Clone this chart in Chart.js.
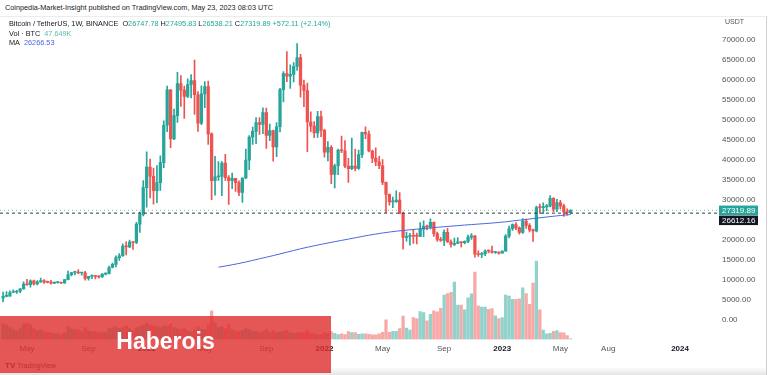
<!DOCTYPE html>
<html>
<head>
<meta charset="utf-8">
<script src="https://cdn.jsdelivr.net/npm/chart.js@4.4.0/dist/chart.umd.min.js"></script>
<style>
  html, body { margin: 0; padding: 0; background: #fff; }
  body { width: 768px; height: 375px; position: relative; overflow: hidden;
         font-family: "Liberation Sans", Arial, sans-serif; color: #131722; }
  #chart { position: absolute; left: 0; top: 17px; }
  .hdr { position: absolute; left: 5px; top: 3px; font-size: 7.3px; color: #222; white-space: nowrap; }
  .sep { position: absolute; left: 0; top: 16px; width: 768px; height: 1px; background: #ececec; }
  .legend { position: absolute; left: 9px; top: 19px; font-size: 7.3px; line-height: 9.6px; white-space: nowrap; }
  .up { color: #26a69a; }
  .vol { color: #5fbcb3; }
  .ma { color: #4a67e0; }
  .usdt { position: absolute; left: 725px; top: 18px; font-size: 7px; color: #555; }
  .rborder { position: absolute; left: 766px; top: 17px; width: 1px; height: 358px; background: #cfcfcf; }
  .tv { position: absolute; left: 5px; top: 361px; font-size: 7px; color: #333; }
  .tv b { font-size: 8px; margin-right: 2px; }
  .shade { position: absolute; left: 0; top: 367px; width: 766px; height: 8px;
           background: linear-gradient(#fff, #e4e4e4); }
  .stamp { position: absolute; left: 0; top: 316px; width: 331px; height: 57px;
           background: rgba(222, 45, 45, 0.8); color: #fff; font: bold 23px "Liberation Sans", Arial, sans-serif;
           text-align: center; line-height: 50px; }
</style>
</head>
<body>
<div class="hdr">Coinpedia-Market-Insight published on TradingView.com, May 23, 2023 08:03 UTC</div>
<div class="sep"></div>
<div class="shade"></div>
<canvas id="chart" width="768" height="343"></canvas>
<div class="legend" id="legend"></div>
<div class="usdt">USDT</div>
<div class="rborder"></div>
<div class="tv"><b>TV</b>TradingView</div>
<div class="stamp">Haberois</div>
<script>
// weekly candles, index 0 = week of 16 Mar 2020 (BTCUSDT, Binance)
const openP = [
  5361, 5816, 5880, 6775, 6910, 7120, 7700, 8890, 8725, 9680, 8910, 9450, 9740, 9330, 9290, 9120, 9230, 9240, 9160, 9985,
  11220, 11780, 11910, 11650, 11710, 10280, 10790, 10920, 10770, 10670, 11380, 11500, 13030, 13800, 15480, 15960, 18400, 18180, 19360, 19270,
  23860, 26280,
  33000, 38150, 35830, 32260, 34260, 39250, 48580, 57410, 45140, 50970, 59030, 57350, 55790, 58760, 59770, 56200, 49100, 56420, 58240, 46430,
  34700, 35680, 35800, 39100, 35500, 34700, 35290, 34250, 31780, 35400, 39850, 45600, 47050, 49250, 48800, 51750, 46060, 47250, 43160, 48200,
  57480, 61530, 60850, 61300, 63270, 65500, 58620, 57270, 49400, 48380, 46680, 50780,
  47290, 41830, 43080, 36280, 38470, 42400, 42200, 38360, 37700, 38400, 37780, 41260, 46830, 46400, 42150, 40380, 39450, 38470, 34300, 31300,
  29430, 29450, 29900, 26570, 20550, 20730, 20850, 20830, 20790, 22580, 23300, 23170, 24300, 21500, 20030, 19800, 21800, 19420, 18800, 19050,
  19420, 19200, 19570, 20630, 20920, 16330, 16280, 16450, 17120, 17100, 16780, 16840,
  16620, 17130, 20870, 22700, 23740, 22930, 21780, 24630, 23550, 22430, 22150, 28000, 27990, 28170, 28330, 30300, 27590, 29230, 28430, 26920,
  26747.78
];
const highP = [
  6900, 6980, 7200, 7470, 7290, 7780, 9460, 10070, 9950, 9890, 9750, 10380, 10000, 9600, 9790, 9350, 9430, 9330, 10000, 12125,
  11800, 12100, 12485, 11800, 12090, 10590, 11180, 11000, 10950, 11490, 11720, 13350, 14100, 15960, 16480, 18950, 19420, 19900, 19420, 24300,
  26870, 34780,
  41950, 40100, 37850, 38530, 40950, 49700, 58350, 57530, 52640, 61800, 61000, 58400, 60200, 61240, 64850, 57000, 58450, 59500, 59600, 46660,
  40800, 39480, 39500, 41330, 36000, 36600, 35300, 34680, 35450, 42600, 46000, 48150, 50500, 50500, 52950, 52900, 48850, 47350, 49230, 57800,
  62000, 67000, 63700, 64250, 69000, 66340, 59900, 59100, 51950, 49500, 52090, 52100,
  47570, 44500, 43500, 38900, 42650, 45850, 44750, 40300, 45400, 42600, 42400, 46900, 48200, 47200, 42400, 42950, 40800, 40000, 34400, 31350,
  30650, 32200, 31750, 26900, 21900, 21540, 22500, 21600, 24280, 24670, 23650, 25200, 24450, 21900, 20580, 22450, 22800, 19950, 20400, 20500,
  19520, 19700, 21100, 21480, 21000, 17200, 16800, 17420, 17390, 18400, 17070, 16950,
  17180, 21260, 23370, 23960, 24250, 23160, 25250, 25130, 24000, 22600, 28400, 28900, 29200, 28800, 31000, 30500, 30040, 29830, 28880, 27670,
  27495.83
];
const lowP = [
  4442, 5670, 5860, 6770, 6555, 6750, 7630, 8520, 8106, 8630, 8640, 9280, 9050, 9200, 8830, 8975, 9130, 9000, 9030, 9920,
  10930, 11140, 11480, 11100, 9830, 9860, 10220, 10140, 10370, 10530, 11200, 11400, 12900, 13200, 14800, 15800, 16200, 18000, 17570, 19000,
  21800, 25900,
  28130, 30420, 28850, 29240, 32300, 37990, 47000, 43000, 45000, 49300, 53270, 50300, 55450, 55400, 51300, 47040, 48750, 53000, 43800, 30000,
  31100, 34800, 31000, 34800, 28800, 32700, 32070, 31000, 29280, 35200, 37500, 43800, 43950, 46300, 46500, 42800, 44750, 39600, 40750, 46900,
  54400, 59500, 57800, 59400, 62300, 55600, 53250, 42000, 47000, 45500, 45560, 45700,
  40600, 39650, 34000, 32900, 36250, 41700, 38000, 34300, 37450, 37150, 37550, 40470, 45200, 41900, 39200, 38500, 37700, 33700, 26700, 28600,
  28000, 29300, 26560, 17620, 19600, 18600, 19050, 18900, 20750, 20700, 22400, 22650, 20770, 19520, 19550, 18500, 19300, 18100, 18470, 19000,
  18180, 18900, 19200, 20060, 15590, 15800, 15480, 16000, 16700, 16600, 16550, 16330,
  16600, 17130, 20400, 22300, 22500, 21350, 21530, 22800, 21900, 19550, 21900, 26600, 26500, 27200, 28170, 27000, 26950, 27680, 25800, 26100,
  26538.21
];
const closeP = [
  5816, 5880, 6775, 6910, 7120, 7700, 8890, 8725, 9680, 8910, 9450, 9740, 9330, 9290, 9120, 9230, 9240, 9160, 9985, 11220,
  11780, 11910, 11650, 11710, 10280, 10790, 10920, 10770, 10670, 11380, 11500, 13030, 13800, 15480, 15960, 18400, 18180, 19360, 19270, 23860,
  26280, 33000,
  38150, 35830, 32260, 34260, 39250, 48580, 57410, 45140, 50970, 59030, 57350, 55790, 58760, 59770, 56200, 49100, 56420, 58240, 46430, 34700,
  35680, 35800, 39100, 35500, 34700, 35290, 34250, 31780, 35400, 39850, 45600, 47050, 49250, 48800, 51750, 46060, 47250, 43160, 48200, 57480,
  61530, 60850, 61300, 63270, 65500, 58620, 57270, 49400, 48380, 46680, 50780, 47290,
  41830, 43080, 36280, 38470, 42400, 42200, 38360, 37700, 38400, 37780, 41260, 46830, 46400, 42150, 40380, 39450, 38470, 34300, 31300, 29430,
  29450, 29900, 26570, 20550, 20730, 20850, 20830, 20790, 22580, 23300, 23170, 24300, 21500, 20030, 19800, 21800, 19420, 18800, 19050, 19420,
  19200, 19570, 20630, 20920, 16330, 16280, 16450, 17120, 17100, 16780, 16840, 16620,
  17130, 20870, 22700, 23740, 22930, 21780, 24630, 23550, 22430, 22150, 28000, 27990, 28170, 28330, 30300, 27590, 29230, 28430, 26920, 26750,
  27319.89
];
// volume, thousand BTC
const volumeK = [
  960, 900, 720, 600, 540, 660, 960, 1020, 900, 660, 540, 600, 480, 420, 420, 360, 360, 300, 420, 780,
  660, 600, 600, 480, 720, 540, 480, 480, 420, 420, 420, 660, 720, 780, 660, 720, 840, 660, 540, 720,
  780, 900,
  1020, 900, 840, 780, 720, 840, 780, 960, 720, 660, 600, 660, 540, 480, 600, 780, 600, 600, 900, 1740,
  1020, 720, 780, 660, 900, 600, 480, 480, 540, 660, 600, 480, 480, 420, 480, 600, 420, 540, 420, 480,
  480, 540, 420, 360, 420, 420, 420, 540, 360, 360, 300, 300,
  420, 360, 480, 380, 300, 340, 300, 480, 420, 420, 320, 340, 340, 320, 280, 280, 340, 440, 1200, 440,
  500, 500, 660, 1420, 700, 580, 1340, 1280, 1700, 1640, 1140, 1540, 1740, 1680, 1900, 2700, 2800, 2880, 3500, 2100,
  2100, 1800, 2540, 2780, 4100, 2040, 1980, 1980, 1840, 1880, 1440, 1280,
  1340, 2700, 2640, 2440, 2440, 2480, 3140, 2800, 2140, 3440, 4780, 1800, 580, 340, 380, 500, 540, 420, 400, 240,
  47.649
];
// 200-week moving average
const maWeeks = [63, 67, 71, 75, 79, 83, 87, 91, 95, 99, 103, 107, 111, 115, 119, 123, 127, 131, 135, 139, 143, 147, 151, 155, 159, 163, 166];
const maValues = [13100, 13700, 14400, 15200, 16000, 16850, 17700, 18450, 19150, 19800, 20450, 21100, 21650, 22100, 22450, 22770,
  23070, 23350, 23630, 23880, 24130, 24450, 24850, 25250, 25650, 26020, 26266.53];

const markLevel = 26612.16;
const priceTicks = [0, 5000, 10000, 15000, 20000, 25000, 30000, 35000, 40000, 45000, 50000, 55000, 60000, 65000, 70000];
const tickWeeks = [7, 25, 42, 59, 77, 94, 111, 129, 146, 163, 177, 198];
const tickLabels = ["May", "Sep", "2021", "May", "Sep", "2022", "May", "Sep", "2023", "May", "Aug", "2024"];

const upColor = "#26a69a";
const downColor = "#ef5350";
const last = closeP.length - 1;
const lastClose = closeP[last];
const xMin = -0.9, xMax = 209.4;

const isUp = closeP.map((c, i) => c >= openP[i]);
const candleColors = isUp.map((u) => (u ? upColor : downColor));
const volumeColors = isUp.map((u) => (u ? "rgba(38,166,154,0.5)" : "rgba(239,83,80,0.5)"));

// legend text from the last candle
document.getElementById("legend").innerHTML =
  'Bitcoin / TetherUS, 1W, BINANCE&nbsp;&nbsp;' +
  'O<span class="up">' + openP[last].toFixed(2) + '</span> ' +
  'H<span class="up">' + highP[last].toFixed(2) + '</span> ' +
  'L<span class="up">' + lowP[last].toFixed(2) + '</span> ' +
  'C<span class="up">' + lastClose.toFixed(2) + '</span> ' +
  '<span class="up">+572.11 (+2.14%)</span><br>' +
  'Vol · BTC&nbsp;&nbsp;<span class="vol">' + volumeK[last].toFixed(3) + 'K</span><br>' +
  'MA&nbsp;&nbsp;<span class="ma">' + maValues[maValues.length - 1].toFixed(2) + '</span>';

const priceTags = {
  id: "priceTags",
  afterDraw(chart) {
    const { ctx, chartArea, scales } = chart;
    const x = chartArea.right;
    const y1 = scales.y.getPixelForValue(lastClose);
    const h = 9.5;
    ctx.save();
    ctx.font = "8px 'Liberation Sans', Arial, sans-serif";
    ctx.textBaseline = "middle";
    ctx.fillStyle = upColor;
    ctx.fillRect(x, y1 - h / 2, 39, h);
    ctx.fillStyle = "#fff";
    ctx.fillText(lastClose.toFixed(2), x + 3, y1 + 0.5);
    const y2 = y1 + h;
    ctx.fillStyle = "#131722";
    ctx.fillRect(x, y2 - h / 2 + 0.5, 39, h);
    ctx.fillStyle = "#fff";
    ctx.fillText(markLevel.toFixed(2), x + 3, y2 + 1);
    ctx.restore();
  },
};

const dataChart = {
  datasets: [
    {
      type: "line",
      data: maWeeks.map((w, k) => ({ x: w, y: maValues[k] })),
      borderColor: "#4a67e0",
      borderWidth: 1,
      pointRadius: 0,
      tension: 0.3,
      order: 1,
    },
    {
      type: "line",
      data: [{ x: xMin, y: markLevel }, { x: xMax, y: markLevel }],
      borderColor: "#3a3a3a",
      borderWidth: 1,
      borderDash: [3, 3],
      pointRadius: 0,
      order: 1,
    },
    {
      type: "line",
      data: [{ x: xMin, y: lastClose }, { x: xMax, y: lastClose }],
      borderColor: "rgba(38,166,154,0.7)",
      borderWidth: 1,
      borderDash: [1, 3],
      pointRadius: 0,
      order: 1,
    },
    {
      type: "bar",
      data: closeP.map((c, i) => ({ x: i, y: [openP[i], c] })),
      backgroundColor: candleColors,
      barThickness: 2.6,
      minBarLength: 1,
      grouped: false,
      order: 2,
    },
    {
      type: "bar",
      data: closeP.map((c, i) => ({ x: i, y: [lowP[i], highP[i]] })),
      backgroundColor: candleColors,
      barThickness: 1,
      grouped: false,
      order: 3,
    },
    {
      type: "bar",
      yAxisID: "vol",
      data: volumeK.map((v, i) => ({ x: i, y: v })),
      backgroundColor: volumeColors,
      barThickness: 2.6,
      grouped: false,
      order: 5,
    },
  ],
};

const configChart = {
  type: "bar",
  data: dataChart,
  options: {
    responsive: false,
    animation: false,
    devicePixelRatio: 1,
    layout: { padding: { top: 3, bottom: 2, left: 0, right: 0 } },
    plugins: { legend: { display: false }, tooltip: { enabled: false } },
    scales: {
      x: {
        type: "linear",
        min: xMin,
        max: xMax,
        offset: false,
        grid: { display: false, drawTicks: false },
        border: { display: false },
        afterBuildTicks: (s) => { s.ticks = tickWeeks.map((v) => ({ value: v })); },
        afterFit: (s) => { s.height = 18.5; },
        ticks: {
          autoSkip: false,
          maxRotation: 0,
          padding: 4,
          callback: (v, i) => tickLabels[i],
          color: (c) => (/^\d{4}$/.test(tickLabels[c.index]) ? "#131722" : "#555"),
          font: (c) => ({ size: 8, family: "'Liberation Sans', Arial, sans-serif",
            weight: /^\d{4}$/.test(tickLabels[c.index]) ? "bold" : "normal" }),
        },
      },
      y: {
        position: "right",
        min: -4974,
        max: 73693,
        grid: { display: false, drawTicks: false },
        border: { display: false },
        afterBuildTicks: (s) => { s.ticks = priceTicks.map((v) => ({ value: v })); },
        afterFit: (s) => { s.width = 49; },
        ticks: {
          padding: 3,
          color: "#555",
          font: { size: 8, family: "'Liberation Sans', Arial, sans-serif" },
          // the price tags sit over the label just below the last close
          callback: (v) => (v < lastClose && lastClose - v < 5000 ? "" : v.toFixed(2)),
        },
      },
      vol: {
        display: false,
        min: 0,
        max: 19170,
      },
    },
  },
  plugins: [priceTags],
};

const btcChart = new Chart(document.getElementById("chart"), configChart);
</script>
</body>
</html>
